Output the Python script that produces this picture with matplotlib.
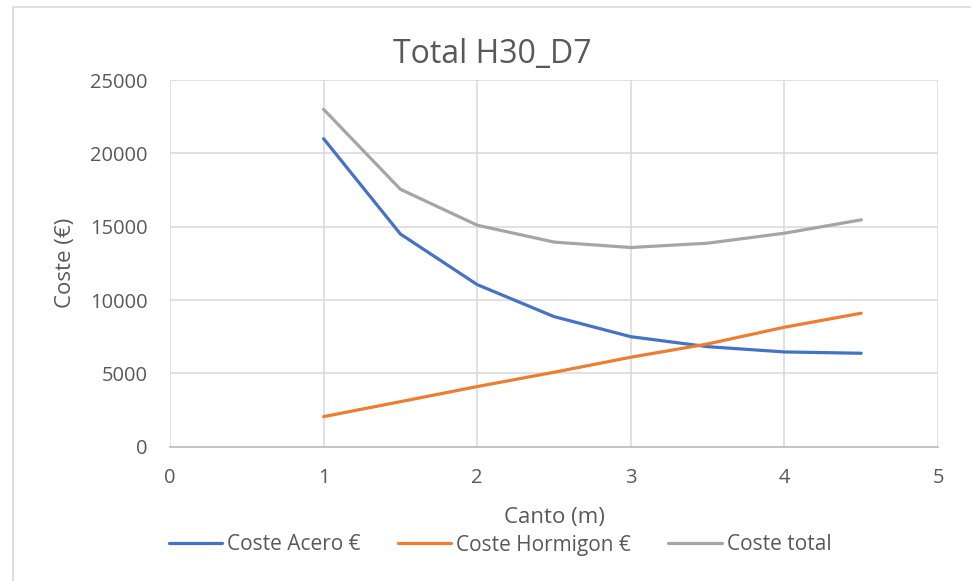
import matplotlib
matplotlib.use("Agg")
import matplotlib.pyplot as plt
from matplotlib.patches import Rectangle

plt.rcParams['font.family'] = ['Open Sans', 'DejaVu Sans']

canto = [1, 1.5, 2, 2.5, 3, 3.5, 4, 4.5]
coste_acero = [21000, 14500, 11050, 8870, 7500, 6820, 6460, 6370]
coste_hormigon = [2050, 3070, 4100, 5075, 6100, 7005, 8145, 9100]
coste_total = [23000, 17550, 15100, 13950, 13580, 13875, 14555, 15465]

series_names = ["Coste Acero €", "Coste Hormigon €", "Coste total"]
series_colors = ["#4472C4", "#ED7D31", "#A5A5A5"]

x_ticks = [0, 1, 2, 3, 4, 5]
y_ticks = [0, 5000, 10000, 15000, 20000, 25000]

text_color = "#595959"
grid_color = "#D9D9D9"

fig = plt.figure(figsize=(9.71, 5.81), dpi=100)
fig.patch.set_facecolor("white")

# chart area border
fig.patches.append(Rectangle((13 / 971, -0.1), 1.2, 1.1 - 7 / 581,
                             transform=fig.transFigure, fill=False,
                             edgecolor=grid_color, linewidth=1.2))

ax = fig.add_axes([170 / 971, (581 - 446.7) / 581, 768 / 971, 366.7 / 581])

for vals, name, col in zip([coste_acero, coste_hormigon, coste_total],
                           series_names, series_colors):
    ax.plot(canto, vals, color=col, linewidth=2.3, label=name,
            solid_joinstyle="round", solid_capstyle="round")

ax.set_xlim(0, 5)
ax.set_ylim(0, 25000)
ax.set_xticks(x_ticks)
ax.set_yticks(y_ticks)
ax.set_xticklabels([str(v) for v in x_ticks])
ax.set_yticklabels([str(v) for v in y_ticks])
ax.grid(True, color=grid_color, linewidth=1.1)
ax.set_axisbelow(True)

for side in ["top", "right", "left"]:
    ax.spines[side].set_visible(False)
ax.spines["bottom"].set_color("#BFBFBF")
ax.spines["bottom"].set_linewidth(1.3)

ax.tick_params(axis="both", length=0, labelsize=14.5, labelcolor=text_color)
ax.tick_params(axis="y", pad=16)
ax.tick_params(axis="x", pad=15)

ax.set_xlabel("Canto (m)", fontsize=16, color=text_color, labelpad=14)
ax.set_ylabel("Coste (€)", fontsize=16, color=text_color, labelpad=10)

fig.text(492 / 971, 1 - 63 / 581, "Total H30_D7", ha="center", va="baseline",
         fontsize=23, color=text_color)

fig.legend(loc="center", bbox_to_anchor=(500 / 971, 1 - 545 / 581), ncol=3,
           frameon=False, fontsize=15, labelcolor=text_color,
           handlelength=2.55, handletextpad=0.25, columnspacing=1.8)

fig.savefig("out.png", dpi=100, facecolor="white")
